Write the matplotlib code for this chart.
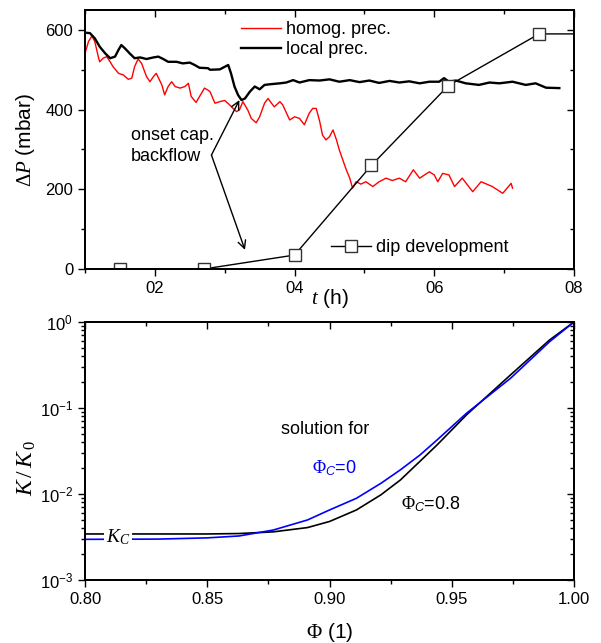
import numpy as np
import matplotlib
matplotlib.use("Agg")
import matplotlib.pyplot as plt
from matplotlib.ticker import FixedLocator, FixedFormatter, LogLocator, NullFormatter

plt.rcParams['font.family'] = ['Liberation Sans', 'DejaVu Sans']
plt.rcParams['font.size'] = 12
plt.rcParams['mathtext.fontset'] = 'custom'
plt.rcParams['mathtext.rm'] = 'Liberation Serif'
plt.rcParams['mathtext.it'] = 'Liberation Serif:italic'
plt.rcParams['mathtext.bf'] = 'Liberation Serif:bold'
plt.rcParams['mathtext.sf'] = 'Liberation Sans:italic'
plt.rcParams['axes.unicode_minus'] = False

# top panel: pressure drop vs time
t_homog = [1.00, 1.05, 1.10, 1.14, 1.19, 1.21, 1.26, 1.31, 1.36, 1.40, 1.48, 1.55, 1.62, 1.67,
           1.71, 1.76, 1.81, 1.88, 1.93, 1.98, 2.02, 2.10, 2.14, 2.19, 2.24, 2.29, 2.36, 2.43,
           2.48, 2.52, 2.59, 2.64, 2.71, 2.76, 2.79, 2.86, 2.93, 3.00, 3.07, 3.12, 3.17, 3.21,
           3.26, 3.33, 3.38, 3.45, 3.50, 3.57, 3.62, 3.67, 3.71, 3.79, 3.83, 3.93, 4.00, 4.07,
           4.14, 4.21, 4.26, 4.31, 4.36, 4.40, 4.45, 4.50, 4.55, 4.60, 4.64, 4.69, 4.74, 4.79,
           4.83, 4.88, 4.95, 5.02, 5.12, 5.21, 5.31, 5.40, 5.50, 5.59, 5.70, 5.79, 5.86, 5.93,
           6.00, 6.05, 6.12, 6.21, 6.29, 6.40, 6.55, 6.67, 6.83, 6.98, 7.10, 7.12]
p_homog = [541, 571, 585, 571, 533, 520, 529, 533, 520, 508, 491, 487, 476, 479,
           508, 527, 516, 483, 470, 483, 491, 462, 437, 458, 470, 458, 454, 458,
           466, 433, 418, 433, 454, 449, 445, 416, 420, 423, 412, 403, 395, 399,
           420, 399, 378, 367, 382, 416, 428, 416, 407, 420, 412, 374, 382, 378,
           362, 391, 403, 403, 370, 336, 324, 332, 349, 324, 299, 274, 249, 228,
           203, 219, 213, 219, 207, 219, 228, 222, 228, 219, 249, 228, 236, 244,
           236, 219, 240, 236, 207, 228, 194, 219, 207, 190, 215, 203]

t_local = [1.00, 1.07, 1.14, 1.21, 1.29, 1.36, 1.43, 1.48, 1.52, 1.57, 1.64, 1.71, 1.79, 1.88,
           1.98, 2.05, 2.12, 2.19, 2.31, 2.40, 2.50, 2.57, 2.64, 2.76, 2.79, 2.93, 3.05, 3.09,
           3.14, 3.19, 3.24, 3.29, 3.36, 3.43, 3.50, 3.57, 3.67, 3.79, 3.88, 3.98, 4.07, 4.21,
           4.36, 4.50, 4.64, 4.79, 4.93, 5.07, 5.21, 5.36, 5.50, 5.64, 5.79, 5.93, 6.07, 6.14,
           6.21, 6.31, 6.45, 6.64, 6.79, 6.93, 7.12, 7.31, 7.45, 7.60, 7.79]
p_local = [593, 592, 579, 558, 541, 529, 533, 550, 562, 554, 541, 529, 531, 527,
           531, 533, 527, 520, 520, 516, 518, 512, 505, 504, 500, 501, 512, 491,
           458, 437, 424, 428, 445, 458, 451, 462, 464, 466, 468, 474, 468, 474,
           473, 476, 470, 474, 469, 473, 467, 472, 468, 471, 466, 470, 470, 479,
           470, 473, 466, 462, 468, 466, 470, 462, 466, 455, 454]

t_dip = [0.5, 1.5, 2.7, 4.0, 5.1, 6.2, 7.5, 8.6]
p_dip = [0, 0, 0, 35, 260, 460, 590, 590]

t_ticks = [2, 4, 6, 8]
t_ticklabels = ['02', '04', '06', '08']

# bottom panel: permeability vs porosity
phi_c08 = [0.80, 0.85, 0.863, 0.877, 0.891, 0.900, 0.911, 0.921, 0.929, 0.937, 0.944,
           0.956, 0.974, 0.990, 1.000]
k_c08 = [3.43e-3, 3.43e-3, 3.47e-3, 3.63e-3, 4.07e-3, 4.79e-3, 6.52e-3, 9.77e-3, 1.456e-2,
         2.40e-2, 3.72e-2, 8.30e-2, 0.242, 0.618, 1.0]
phi_c0 = [0.80, 0.83, 0.85, 0.863, 0.877, 0.891, 0.900, 0.911, 0.921, 0.929, 0.937, 0.944,
          0.956, 0.974, 0.990, 1.000]
k_c0 = [2.97e-3, 2.99e-3, 3.09e-3, 3.25e-3, 3.81e-3, 4.99e-3, 6.52e-3, 8.91e-3, 1.33e-2,
        1.91e-2, 2.84e-2, 4.25e-2, 8.67e-2, 0.221, 0.590, 1.0]


def mirror_ticks(ax, log=False):
    # left/bottom ticks point out, top/right ticks point in (no labels)
    ax.tick_params(which='both', direction='out', width=1)
    ax.tick_params(which='major', length=5)
    ax.tick_params(which='minor', length=3)
    ay = ax.twinx()
    if log:
        ay.set_yscale('log')
        ay.yaxis.set_major_locator(LogLocator(base=10))
        ay.yaxis.set_minor_locator(LogLocator(base=10, subs=np.arange(2, 10)))
    else:
        ay.set_yticks(ax.get_yticks())
        ay.set_yticks(ax.get_yticks(minor=True), minor=True)
    ay.set_ylim(ax.get_ylim())
    ay.tick_params(which='both', direction='in', width=1, labelright=False)
    ay.tick_params(which='major', length=5)
    ay.tick_params(which='minor', length=3)
    ax_t = ax.twiny()
    ax_t.set_xticks(ax.get_xticks())
    ax_t.set_xticks(ax.get_xticks(minor=True), minor=True)
    ax_t.set_xlim(ax.get_xlim())
    ax_t.tick_params(which='both', direction='in', width=1, labeltop=False)
    ax_t.tick_params(which='major', length=5)
    ax_t.tick_params(which='minor', length=3)
    for a in (ax, ay, ax_t):
        for s in a.spines.values():
            s.set_linewidth(1.2)


fig = plt.figure(figsize=(6.01, 6.43), dpi=100)
ax1 = fig.add_axes([85 / 601, 1 - 269 / 643, 489 / 601, 259 / 643])
ax2 = fig.add_axes([85 / 601, 1 - 580 / 643, 489 / 601, 258 / 643])

# ---- top
l1, = ax1.plot(t_homog, p_homog, color='red', lw=1.0, label='homog. prec.')
l2, = ax1.plot(t_local, p_local, color='black', lw=1.7, label='local prec.')
l3, = ax1.plot(t_dip, p_dip, color='black', lw=1.0, marker='s', ms=9, mfc='white',
               mec='#333333', mew=1.0, label='dip development')
ax1.set_xlim(1, 8)
ax1.set_ylim(0, 650)
ax1.xaxis.set_major_locator(FixedLocator(t_ticks))
ax1.xaxis.set_major_formatter(FixedFormatter(t_ticklabels))
ax1.set_xticks([1, 3, 5, 7], minor=True)
ax1.set_yticks([0, 200, 400, 600])
ax1.set_yticks([100, 300, 500], minor=True)
ax1.set_xlabel(r'$t$ (h)', fontsize=15)
ax1.set_ylabel(r'$\Delta P$ (mbar)', fontsize=15)
ax1.xaxis.set_label_coords(0.5, -0.07)
ax1.yaxis.set_label_coords(-0.098, 0.5)

leg1 = ax1.legend(handles=[l1, l2], loc='upper left', bbox_to_anchor=(0.293, 1.005),
                  frameon=False, handlelength=2.2, handletextpad=0.3, labelspacing=0.15,
                  borderpad=0.2, fontsize=13)
ax1.add_artist(leg1)
ax1.legend(handles=[l3], loc='lower left', bbox_to_anchor=(0.477, 0.0), frameon=False,
           handlelength=2.2, handletextpad=0.3, borderpad=0.2, fontsize=13)

ax1.text(1.66, 309, 'onset cap.\nbackflow', ha='left', va='center', fontsize=13,
         linespacing=1.3)
for tip in [(3.21, 424), (3.29, 48)]:
    ax1.annotate('', xy=tip, xytext=(2.81, 286),
                 arrowprops=dict(arrowstyle='->', color='black', lw=1.0,
                                 shrinkA=0, shrinkB=0, mutation_scale=14))
mirror_ticks(ax1)

# ---- bottom
ax2.plot(phi_c08, k_c08, color='black', lw=1.2)
ax2.plot(phi_c0, k_c0, color='blue', lw=1.2)
ax2.set_yscale('log')
ax2.set_xlim(0.80, 1.00)
ax2.set_ylim(1e-3, 1)
ax2.set_xticks([0.80, 0.85, 0.90, 0.95, 1.00])
ax2.set_xticklabels(['0.80', '0.85', '0.90', '0.95', '1.00'])
ax2.set_xticks([0.825, 0.875, 0.925, 0.975], minor=True)
ax2.yaxis.set_major_locator(LogLocator(base=10))
ax2.yaxis.set_minor_locator(LogLocator(base=10, subs=np.arange(2, 10)))
ax2.yaxis.set_minor_formatter(NullFormatter())
ax2.set_xlabel(r'$\Phi$ (1)', fontsize=15)
ax2.set_ylabel(r'$K\,/\,K_{\,0}$', fontsize=17)
ax2.xaxis.set_label_coords(0.5, -0.16)
ax2.yaxis.set_label_coords(-0.096, 0.434)

ax2.text(0.8984, 0.0555, 'solution for', ha='center', va='center', fontsize=13)
ax2.text(0.9018, 0.020, r'$\Phi_{\mathsf{C}}$=0', ha='center', va='center', fontsize=13,
         color='blue')
ax2.text(0.9415, 7.65e-3, r'$\Phi_{\mathsf{C}}$=0.8', ha='center', va='center', fontsize=13)
ax2.text(0.8135, 3.15e-3, r'$K_C$', ha='center', va='center', fontsize=14, zorder=5,
         bbox=dict(facecolor='white', edgecolor='none', pad=1))
mirror_ticks(ax2, log=True)

fig.savefig('out.png', dpi=100)
